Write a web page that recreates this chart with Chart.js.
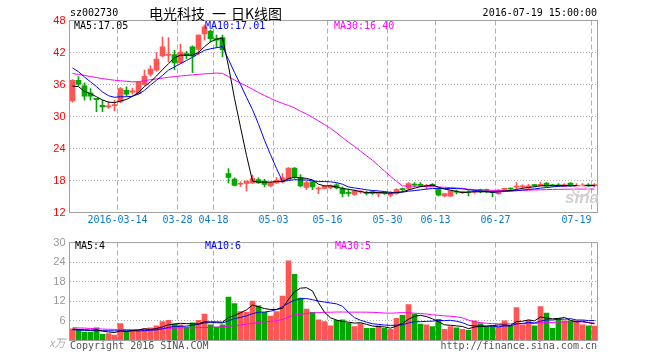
<!DOCTYPE html>
<html><head><meta charset="utf-8">
<script src="https://cdn.jsdelivr.net/npm/chart.js@4.4.1/dist/chart.umd.min.js"></script>
<style>
html,body{margin:0;padding:0;background:#fff;}
#wrap{position:relative;width:660px;height:360px;overflow:hidden;font-family:"DejaVu Sans Mono",monospace;font-size:10px;}
#c1{position:absolute;left:0;top:0;}
#c2{position:absolute;left:0;top:232px;}
.t{position:absolute;white-space:nowrap;line-height:12px;}
.h{position:absolute;white-space:nowrap;top:3px;line-height:20px;font-family:'Noto Sans CJK SC',sans-serif;font-size:14px;color:#000;}
</style></head><body>
<div id="wrap">
<canvas id="c1" width="660" height="232"></canvas>
<canvas id="c2" width="660" height="128"></canvas>
<div class="t" style="left:70px;top:7px;color:#000;">sz002730</div>
<div class="h" style="left:149px;">电光科技</div>
<div class="h" style="left:212px;">一</div>
<div class="h" style="left:231px;">日K线图</div>
<div class="t" style="right:63px;top:7px;color:#000;">2016-07-19 15:00:00</div>
<div class="t" style="left:74px;top:20px;color:#000;">MA5:17.05</div>
<div class="t" style="left:205px;top:20px;color:#0000ff;">MA10:17.01</div>
<div class="t" style="left:334px;top:20px;color:#ff00ff;">MA30:16.40</div>
<div class="t" style="left:75px;top:240px;color:#000;">MA5:4</div>
<div class="t" style="left:205px;top:240px;color:#0000ff;">MA10:6</div>
<div class="t" style="left:335px;top:240px;color:#ff00ff;">MA30:5</div>
<div class="t" style="left:49px;top:335px;color:#aaa;font-style:italic;font-family:'Noto Sans CJK SC',sans-serif;font-size:11px;line-height:14px;">x万</div>
<div class="t" style="left:70px;top:340px;color:#555;">Copyright 2016 SINA.COM</div>
<div class="t" style="right:63px;top:340px;color:#555;">http://finance.sina.com.cn</div>
<div style="position:absolute;left:572px;top:185px;width:14px;height:8px;border:2px solid #e6cccc;border-radius:50%;"></div>
<div class="t" style="left:565px;top:190px;line-height:16px;font-family:'Liberation Sans',sans-serif;font-size:17px;font-weight:bold;font-style:italic;color:#d0d0d0;">sina</div>
</div>
<script>
const dates = ['03-02','03-03','03-04','03-07','03-08','03-09','03-10','03-11','03-14','03-15',
'03-16','03-17','03-18','03-21','03-22','03-23','03-24','03-25','03-28','03-29',
'03-30','03-31','04-01','04-05','04-18','04-19','04-20','04-21','04-22','04-25',
'04-26','04-27','04-28','04-29','05-03','05-04','05-05','05-06','05-09','05-10',
'05-11','05-12','05-13','05-16','05-17','05-18','05-19','05-20','05-23','05-24',
'05-25','05-26','05-27','05-30','05-31','06-01','06-02','06-03','06-06','06-07',
'06-08','06-13','06-14','06-15','06-16','06-17','06-20','06-21','06-22','06-23',
'06-24','06-27','06-28','06-29','06-30','07-01','07-04','07-05','07-06','07-07',
'07-08','07-11','07-12','07-13','07-14','07-15','07-18','07-19'];

const tickDates = ['03-14','03-28','04-18','05-03','05-16','05-30','06-13','06-27','07-19'];
const tickTexts = ['2016-03-14','03-28','04-18','05-03','05-16','05-30','06-13','06-27','07-19'];
const priceTicks = [12,18,24,30,36,42,48];
const volTicks = [0,6,12,18,24,30];

const open = [32.9,36.8,35.75,34.4,33.4,32.1,31.8,32.05,32.75,34.9,
34.55,34.3,36.0,37.95,38.7,41.35,41.5,41.6,40.05,41.8,
43.05,42.6,45.5,46.0,44.6,44.8,19.3,18.25,17.3,17.44,
17.55,18.19,17.87,17.0,17.55,17.75,18.19,20.35,18.56,16.7,
17.75,16.4,16.5,16.6,17.18,16.5,15.8,15.4,15.85,15.8,
15.9,15.5,15.8,15.25,15.55,16.4,16.5,17.25,17.25,16.9,
17.15,16.3,15.1,15.05,16.0,15.8,15.9,15.8,16.3,16.3,
15.9,15.55,16.35,16.45,16.75,16.8,16.6,17.1,17.1,17.5,
17.15,17.2,16.9,17.5,16.9,16.95,17.1,17.05];
const close = [36.8,36.05,33.8,33.8,33.15,31.8,32.0,32.25,35.25,34.2,
34.8,36.45,37.55,38.9,40.75,43.05,41.7,40.05,42.1,41.4,
41.3,45.25,46.8,44.6,44.3,42.55,18.56,17.1,17.45,17.87,
18.37,17.55,17.25,17.6,18.05,18.5,20.35,18.66,17.0,17.6,
16.8,16.5,16.9,17.05,16.62,15.55,15.6,16.0,15.9,15.6,
15.6,15.7,15.6,15.55,16.3,16.3,17.44,17.15,17.1,17.0,
17.1,15.25,15.55,16.05,15.8,15.9,15.75,16.0,15.9,15.9,
15.7,16.2,16.45,16.4,16.8,16.85,17.0,17.05,17.3,16.95,
17.0,17.0,17.2,17.0,17.1,17.05,17.0,17.1];
const high = [36.9,37.5,36.3,35.25,33.4,33.05,32.75,33.05,35.4,35.55,
35.35,36.6,38.7,39.5,42.0,44.9,44.8,42.4,43.55,42.2,
43.25,45.3,47.2,46.2,45.25,45.25,20.25,18.5,17.75,17.9,
19.0,18.5,18.2,17.75,18.56,19.3,20.4,20.4,19.1,17.9,
17.9,16.8,17.0,17.2,17.4,16.8,16.37,16.2,16.1,16.0,
16.1,15.85,15.9,15.9,16.5,16.6,17.6,17.6,17.6,17.3,
17.4,16.5,15.6,16.1,16.2,16.0,16.1,16.2,16.4,16.4,
16.0,16.3,16.6,16.6,17.6,17.2,17.3,17.3,17.7,17.6,
17.3,17.4,17.4,17.6,17.4,17.4,17.4,17.4];
const low = [32.7,35.75,33.05,33.05,30.9,30.9,31.5,31.05,32.6,33.8,
34.2,34.2,35.8,37.55,38.5,41.2,40.25,38.8,39.95,40.8,
38.2,41.6,44.3,44.0,42.95,41.2,17.55,17.0,16.9,16.05,
17.44,17.44,16.8,16.8,17.44,17.6,18.19,18.4,16.8,16.3,
16.3,15.55,16.4,16.4,16.4,14.93,15.05,15.2,15.6,15.3,
15.4,14.9,15.4,14.9,15.4,16.0,16.3,16.8,16.8,16.4,
16.9,15.1,14.9,15.0,15.5,15.6,15.1,15.6,15.7,15.7,
14.9,15.4,16.2,16.2,16.4,16.4,16.4,16.9,17.0,16.9,
16.9,16.9,16.9,16.9,16.8,16.85,16.9,16.8];

const ma5 = [35.7,35.6,34.7,34.3,33.7,33.1,32.7,32.6,32.9,33.2,
33.8,34.5,35.6,36.5,37.6,38.8,39.9,41.0,41.5,41.5,
41.5,42.0,43.1,44.0,44.5,44.7,39.4,33.4,28.0,22.7,
17.9,17.7,17.7,17.7,17.8,17.8,18.35,18.6,18.5,18.4,
18.1,17.3,17.0,17.0,16.77,16.52,16.34,16.16,15.93,15.73,
15.74,15.76,15.68,15.61,15.75,15.89,16.24,16.55,16.86,17.0,
17.16,16.72,16.4,16.19,15.95,15.71,15.81,15.9,15.87,15.89,
15.85,15.94,16.03,16.13,16.31,16.54,16.7,16.82,17.0,17.03,
17.06,17.06,17.09,17.03,17.06,17.07,17.07,17.05];
const ma10 = [39.1,38.4,37.4,36.5,35.6,34.6,33.9,33.6,33.7,33.7,
33.8,34.2,34.9,35.9,36.8,37.7,38.7,39.3,39.9,40.5,
41.1,41.8,42.4,42.7,42.9,43.1,40.7,38.25,36.0,33.6,
31.3,28.55,25.55,22.85,20.25,17.85,18.0,18.15,18.1,18.1,
17.95,17.8,17.8,17.75,17.6,17.3,16.8,16.6,16.45,16.25,
16.13,16.05,15.92,15.77,15.74,15.8,16.0,16.1,16.24,16.38,
16.5,16.48,16.48,16.5,16.48,16.44,16.27,16.15,16.03,15.92,
15.78,15.88,15.97,16.0,16.1,16.2,16.32,16.43,16.57,16.68,
16.8,16.9,16.96,17.0,17.02,17.03,17.02,17.01];
const ma30 = [38.05,37.9,37.7,37.5,37.3,37.1,36.95,36.8,36.7,36.6,
36.5,36.55,36.7,36.9,37.05,37.2,37.35,37.5,37.6,37.7,
37.8,37.9,38.0,38.05,38.15,38.08,37.46,36.83,36.25,35.72,
35.11,34.49,33.94,33.4,32.9,32.45,32.06,31.61,31.0,30.45,
29.85,29.18,28.5,27.77,26.96,26.05,25.18,24.37,23.5,22.64,
21.78,20.8,19.76,18.79,17.86,16.98,16.95,16.95,16.94,16.91,
16.86,16.79,16.73,16.68,16.6,16.52,16.36,16.28,16.24,16.18,
16.15,16.14,16.12,16.1,16.1,16.15,16.19,16.23,16.26,16.29,
16.32,16.34,16.36,16.38,16.39,16.4,16.4,16.4];

const volume = [3.6,3.4,2.6,2.6,3.9,1.9,2.1,1.65,5.2,2.9,
3.3,3.1,3.6,3.9,4.5,5.8,6.2,5.0,4.8,4.1,
5.4,6.2,8.1,4.8,4.1,4.8,13.3,11.3,8.9,8.7,
12.1,10.6,8.6,7.5,8.9,13.6,24.4,20.3,13.0,9.6,
8.6,6.3,5.8,4.5,6.2,6.3,5.3,4.3,5.2,3.7,
3.7,4.5,3.7,3.4,6.8,7.7,11.0,8.1,5.0,4.8,
4.3,6.5,3.4,4.3,3.9,3.4,3.1,6.0,5.2,4.1,
4.4,4.1,6.0,4.5,10.1,4.8,6.2,4.5,10.4,8.4,
3.7,6.8,6.0,6.0,6.0,4.8,4.5,4.4];
const vma5 = [3.5,3.4,3.3,3.2,3.22,2.88,2.62,2.43,2.95,2.75,
3.03,3.23,3.62,3.36,3.68,4.18,4.8,5.08,5.26,5.18,
5.1,5.1,5.72,5.72,5.72,5.6,7.02,7.66,8.48,9.4,
10.86,10.32,9.78,9.5,9.54,9.84,12.6,14.94,16.04,16.18,
15.18,11.56,8.66,6.96,6.28,5.82,5.62,5.32,5.46,4.96,
4.44,4.28,4.16,3.8,4.42,5.22,6.52,7.4,7.72,7.32,
6.64,5.74,4.8,4.66,4.48,4.3,3.62,4.14,4.32,4.36,
4.56,4.76,4.76,4.62,5.82,5.9,6.32,6.02,7.2,6.86,
6.64,6.76,7.06,6.18,5.7,5.92,5.46,5.14];
const vma10 = [3.3,3.2,3.1,3.1,3.0,3.0,3.0,2.95,2.95,2.99,
2.96,2.93,3.03,3.16,3.22,3.6,4.02,4.35,4.31,4.43,
4.64,4.95,5.4,5.49,5.45,5.35,6.06,6.69,7.1,7.56,
8.23,8.67,8.72,8.99,9.47,10.35,11.46,12.36,12.77,12.86,
12.51,12.08,11.8,11.5,11.23,10.5,8.59,6.99,6.21,5.62,
5.13,4.95,4.74,4.63,4.69,4.83,5.4,5.78,5.76,5.87,
5.93,6.13,6.1,6.19,5.9,5.47,4.68,4.47,4.49,4.42,
4.43,4.19,4.45,4.47,5.09,5.23,5.54,5.39,5.91,6.34,
6.27,6.54,6.54,6.69,6.28,6.28,6.11,6.1];
const vma30 = [3.9,3.85,3.8,3.7,3.6,3.5,3.45,3.4,3.4,3.35,
3.3,3.3,3.35,3.45,3.55,3.6,3.7,3.8,3.85,3.9,
3.9,3.95,4.0,4.05,4.1,4.2,4.4,4.55,4.75,4.99,
5.28,5.52,5.72,5.88,6.05,6.44,7.18,7.8,8.06,8.28,
8.46,8.57,8.64,8.66,8.72,8.73,8.7,8.68,8.69,8.68,
8.62,8.57,8.42,8.37,8.46,8.56,8.48,8.38,8.25,8.12,
7.86,7.72,7.55,7.44,7.27,6.93,6.22,5.75,5.49,5.3,
5.16,5.09,5.1,5.1,5.23,5.18,5.21,5.21,5.39,5.54,
5.54,5.62,5.7,5.78,5.76,5.66,5.44,5.32];

const RED = '#ff5555', GREEN = '#00a800', GRID = '#b0b0b0', FRAME = '#a0a0a0';
const barColors = open.map((o, i) => close[i] >= o ? RED : GREEN);
const tickIdx = tickDates.map(d => dates.indexOf(d));

const framePlugin = {
  id: 'frame',
  afterDatasetsDraw(chart) {
    const {ctx, chartArea: a} = chart;
    ctx.save();
    ctx.strokeStyle = FRAME;
    ctx.lineWidth = 1;
    ctx.strokeRect(a.left, a.top, a.right - a.left, a.bottom - a.top);
    ctx.restore();
  }
};
const xLabelPlugin = {
  id: 'xlabels',
  afterDraw(chart) {
    const {ctx, chartArea, scales: {x}} = chart;
    const half = (x.getPixelForValue(1) - x.getPixelForValue(0)) / 2;
    ctx.save();
    ctx.font = '10px "DejaVu Sans Mono"';
    ctx.fillStyle = '#0a7ccc';
    ctx.textBaseline = 'middle';
    tickIdx.forEach((i, k) => {
      const px = x.getPixelForValue(i) - half;
      const txt = tickTexts[k];
      const w = ctx.measureText(txt).width;
      ctx.textAlign = (px + w / 2 > chartArea.right) ? 'right' : 'center';
      ctx.fillText(txt, px, 220.5);
    });
    ctx.restore();
  }
};

function line(data, color) {
  return {type: 'line', data, borderColor: color, borderWidth: 1, pointRadius: 0, tension: 0, order: 0};
}
function xScale() {
  return {
    offset: true,
    grid: {offset: true, drawTicks: false, lineWidth: 1,
      color: c => tickIdx.includes(c.index) ? GRID : 'rgba(0,0,0,0)'},
    border: {display: false, dash: [5, 3]},
    ticks: {display: false, autoSkip: false},
    afterFit: s => { s.height = 10; }
  };
}

new Chart(document.getElementById('c1'), {
  type: 'bar',
  data: {
    labels: dates,
    datasets: [
      line(ma5, '#000000'),
      line(ma10, '#0000ff'),
      line(ma30, '#ff00ff'),
      {data: open.map((o, i) => [o, close[i]]), backgroundColor: barColors, barThickness: 5, grouped: false, minBarLength: 1, order: 1},
      {data: low.map((l, i) => [l, high[i]]), backgroundColor: barColors, barThickness: 1, grouped: false, order: 2}
    ]
  },
  options: {
    responsive: false, animation: false, events: [],
    plugins: {legend: {display: false}, tooltip: {enabled: false}},
    layout: {padding: {left: 0, right: 62.5, top: 20.5, bottom: 9.5}},
    scales: {
      x: xScale(),
      y: {
        min: priceTicks[0], max: priceTicks[priceTicks.length - 1],
        afterBuildTicks: s => { s.ticks = priceTicks.map(v => ({value: v})); },
        ticks: {color: '#ff0000', font: {family: 'Liberation Sans', size: 11}, padding: 4},
        grid: {drawTicks: false, color: c => (c.tick && c.tick.value > 12 && c.tick.value < 48) ? GRID : 'rgba(0,0,0,0)'},
        border: {display: false, dash: [1, 2]},
        afterFit: s => { s.width = 69.5; }
      }
    }
  },
  plugins: [framePlugin, xLabelPlugin]
});

new Chart(document.getElementById('c2'), {
  type: 'bar',
  data: {
    labels: dates,
    datasets: [
      line(vma5, '#000000'),
      line(vma10, '#0000ff'),
      line(vma30, '#ff00ff'),
      {data: volume, backgroundColor: barColors, barThickness: 5, grouped: false, order: 1}
    ]
  },
  options: {
    responsive: false, animation: false, events: [],
    plugins: {legend: {display: false}, tooltip: {enabled: false}},
    layout: {padding: {left: 0, right: 62.5, top: 8.5, bottom: 9.5}},
    scales: {
      x: xScale(),
      y: {
        min: volTicks[0], max: volTicks[volTicks.length - 1],
        afterBuildTicks: s => { s.ticks = volTicks.map(v => ({value: v})); },
        ticks: {color: '#999999', font: {family: 'Liberation Sans', size: 11}, padding: 4,
          callback: v => v === 0 ? '' : String(v)},
        grid: {drawTicks: false, color: c => (c.tick && c.tick.value > 0 && c.tick.value < 30) ? GRID : 'rgba(0,0,0,0)'},
        border: {display: false, dash: [1, 2]},
        afterFit: s => { s.width = 69.5; }
      }
    }
  },
  plugins: [framePlugin]
});
</script>
</body></html>
